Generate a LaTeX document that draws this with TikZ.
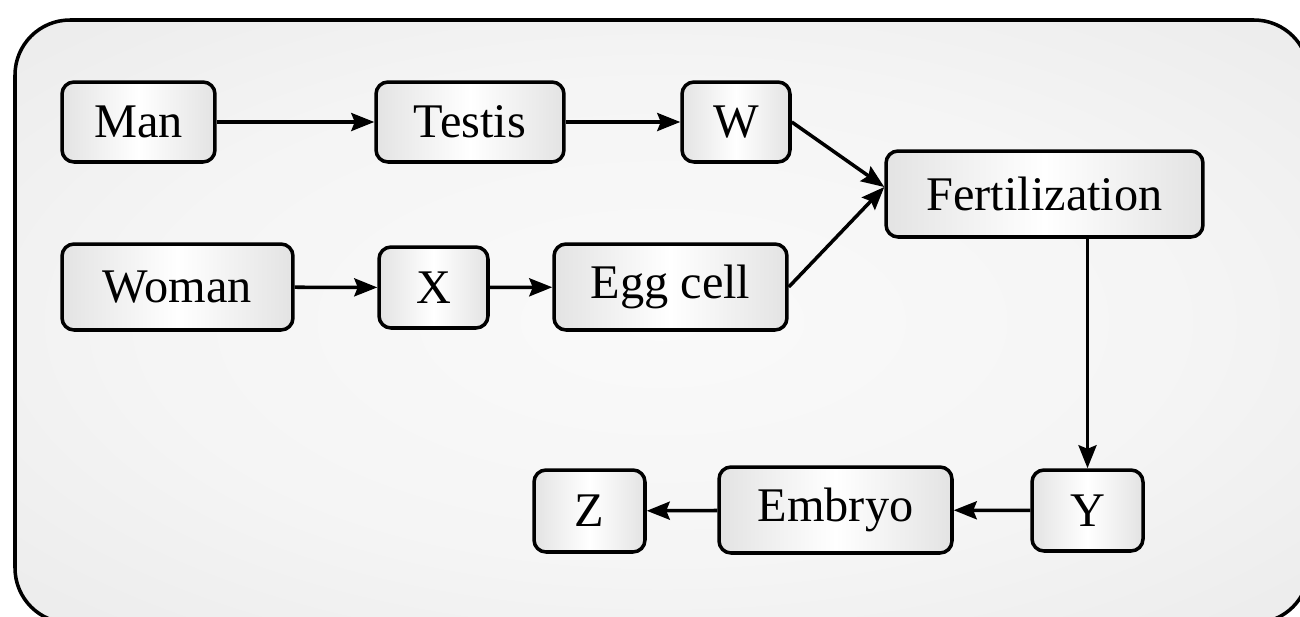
\documentclass[tikz,border=0pt]{standalone}
\usepackage{fontspec}
\setmainfont{Liberation Serif}
\usetikzlibrary{arrows.meta}

% soft glow for the panel: light centre, grey rim
\pgfdeclareradialshading{panelglow}{\pgfpoint{0bp}{0bp}}{%
  color(0bp)=(white!98!black); color(20bp)=(white!96!black);
  color(50bp)=(white!89!black); color(71bp)=(white!87!black)}

\tikzset{
  panel/.style={draw=black, line width=2pt, rounded corners=1.1cm,
    shading=panelglow},
  stage/.style={draw=black, line width=2pt, rounded corners=0.24cm,
    left color=black!11, right color=black!11, middle color=white,
    inner sep=0pt, text=black, font=\fontsize{27.5}{32}\selectfont},
  flow/.style={line width=2pt,
    -{Stealth[length=0.46cm, width=0.36cm, inset=0.07cm]}},
}

\begin{document}
\begin{tikzpicture}[x=0.02cm, y=-0.02cm]
  \useasboundingbox (0,0) rectangle (1300,616);

  % outer panel
  \path[panel] (15,20) rectangle (1309,623);

  % upper row: male line
  \node[stage, minimum width=3.06cm, minimum height=1.60cm] (man)    at (138.5,122) {Man};
  \node[stage, minimum width=3.76cm, minimum height=1.60cm] (testis) at (470,122)   {Testis};
  \node[stage, minimum width=2.16cm, minimum height=1.60cm] (w)      at (736,122)   {W};

  % second row: female line
  \node[stage, minimum width=4.62cm, minimum height=1.72cm] (woman)  at (177.5,287) {Woman};
  \node[stage, minimum width=2.18cm, minimum height=1.62cm] (x)      at (433.5,287.5) {X};
  \node[stage, minimum width=4.66cm, minimum height=1.72cm] (egg)    at (670.5,287) {Egg cell};

  % fertilization
  \node[stage, minimum width=6.34cm, minimum height=1.72cm] (fert)   at (1044.5,194) {Fertilization};

  % lower row
  \node[stage, minimum width=2.22cm, minimum height=1.62cm] (y)      at (1087.5,510.5) {Y};
  \node[stage, minimum width=4.66cm, minimum height=1.72cm] (embryo) at (835.5,510) {Embryo};
  \node[stage, minimum width=2.22cm, minimum height=1.64cm] (z)      at (589.5,511) {Z};

  % connectors
  \draw[flow] (man) -- (testis);
  \draw[flow] (testis) -- (w);
  \draw[flow] (woman) -- (x);
  \draw[flow] (x) -- (egg);
  \draw[flow] (w.east) -- ([yshift=0.14cm]fert.west);
  \draw[flow] (egg.east) -- ([yshift=0.14cm]fert.west);
  \draw[flow] (fert.south -| y.north) -- (y.north);
  \draw[flow] (y) -- (embryo);
  \draw[flow] (embryo) -- (z);
\end{tikzpicture}
\end{document}
